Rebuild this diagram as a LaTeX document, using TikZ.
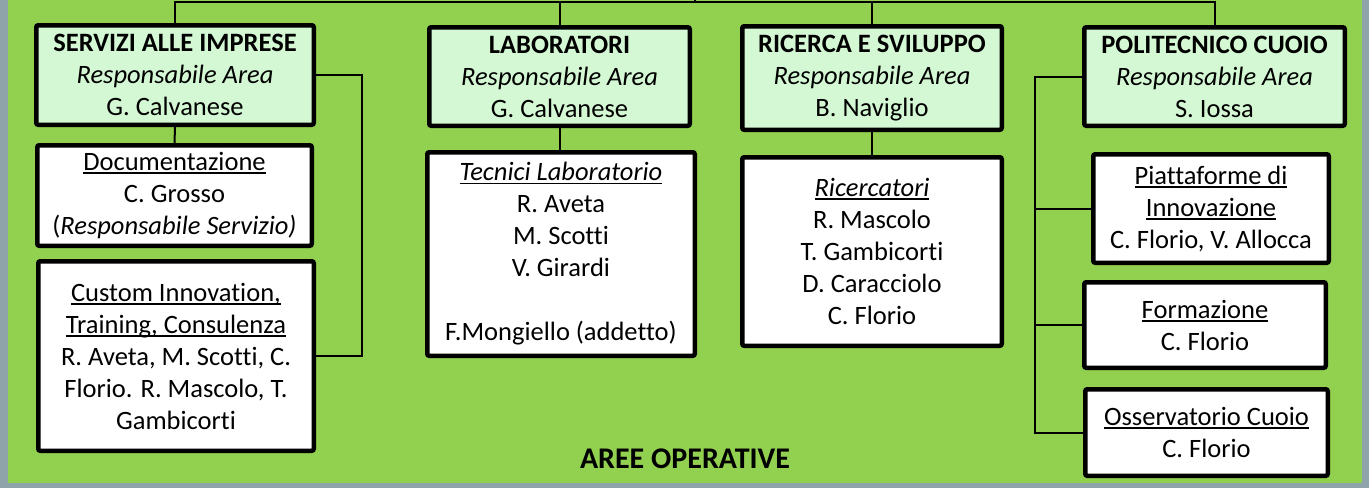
\documentclass[tikz,border=0pt]{standalone}
\usepackage{fontspec}
\setmainfont{Carlito}[Ligatures=CommonOff]
\usepackage{xcolor}
\definecolor{bggreen}{RGB}{146,208,80}
\definecolor{headgreen}{RGB}{212,248,212}
\definecolor{framegray}{RGB}{142,164,170}
\newcommand{\ulx}[1]{{\setbox0\hbox{#1}\rlap{\rule[-3.5pt]{\wd0}{1.6pt}}\box0}}

\begin{document}
\begin{tikzpicture}[x=1pt,y=-1pt,
  box/.style={draw, line width=4.5pt, rounded corners=2pt, align=center, inner sep=0pt,
    font=\fontsize{26.5}{32}\selectfont},
  headbox/.style={box, fill=headgreen},
  unitbox/.style={box, fill=white},
  link/.style={line width=2pt}]
\useasboundingbox (0,0) rectangle (1369,488);
\fill[framegray] (0,0) rectangle (1369,488);
\fill[bggreen] (8,0) rectangle (1362,483);

\node[headbox, minimum width=277.5pt, minimum height=99.5pt] (serv) at (175,75) {\textbf{SERVIZI ALLE IMPRESE}\\\textit{Responsabile Area}\\G. Calvanese};
\node[headbox, minimum width=260.5pt, minimum height=98.5pt] (lab) at (559.5,76.5) {\textbf{LABORATORI}\\\textit{Responsabile Area}\\G. Calvanese};
\node[headbox, minimum width=259.5pt, minimum height=103.5pt] (ric) at (872,78) {\textbf{RICERCA E SVILUPPO}\\\textit{Responsabile Area}\\B. Naviglio};
\node[headbox, minimum width=260.5pt, minimum height=98.5pt] (pol) at (1214.5,76.5) {\textbf{POLITECNICO CUOIO}\\\textit{Responsabile Area}\\S. Iossa};

\node[unitbox, minimum width=274.5pt, minimum height=100.5pt] (doc) at (174.5,195.5) {\ulx{Documentazione}\\C. Grosso\\(\textit{Responsabile Servizio)}};
\node[unitbox, minimum width=275.5pt, minimum height=189.5pt] (cust) at (176,356) {\ulx{Custom Innovation,}\\\ulx{Training, Consulenza}\\R. Aveta, M. Scotti, C.\\Florio. R. Mascolo, T.\\Gambicorti};
\node[unitbox, minimum width=267.5pt, minimum height=203.5pt] (tec) at (561,254) {\ulx{\textit{Tecnici Laboratorio}}\\R. Aveta\\M. Scotti\\V. Girardi\\[32pt]F.Mongiello (addetto)};
\node[unitbox, minimum width=259.5pt, minimum height=188.5pt] (rc) at (872,251.5) {\ulx{\textit{Ricercatori}}\\R. Mascolo\\T. Gambicorti\\D. Caracciolo\\C. Florio};
\node[unitbox, minimum width=235.5pt, minimum height=108.5pt] (pia) at (1211,208.5) {\ulx{Piattaforme di}\\\ulx{Innovazione}\\C. Florio, V. Allocca};
\node[unitbox, minimum width=241.5pt, minimum height=85.5pt] (form) at (1205,325) {\ulx{Formazione}\\C. Florio};
\node[unitbox, minimum width=242.5pt, minimum height=86.5pt] (oss) at (1206.5,432.5) {\ulx{Osservatorio Cuoio}\\C. Florio};

\node[anchor=base, font=\fontsize{30}{36}\selectfont\bfseries] (aree) at (685,468) {AREE OPERATIVE};

\coordinate (bus) at (695,2);
\coordinate (up) at (695,0);
\coordinate (brk) at (362,200);
\coordinate (spine) at (1035,200);

\draw[link] (serv.north) |- (bus) -| (pol.north);
\draw[link] (bus) -- (up);
\draw[link] (lab.north) -- (lab.north |- bus);
\draw[link] (ric.north) -- (ric.north |- bus);
\draw[link] (serv.south) -- (doc.north);
\draw[link] (serv.east) -| (brk) |- (cust.east);
\draw[link] (lab.south) -- (lab.south |- tec.north);
\draw[link] (ric.south) -- (rc.north);
\draw[link] (pol.west) -| (spine |- oss.west) -- (oss.west);
\draw[link] (spine |- pia.west) -- (pia.west);
\draw[link] (spine |- form.west) -- (form.west);
\end{tikzpicture}
\end{document}
